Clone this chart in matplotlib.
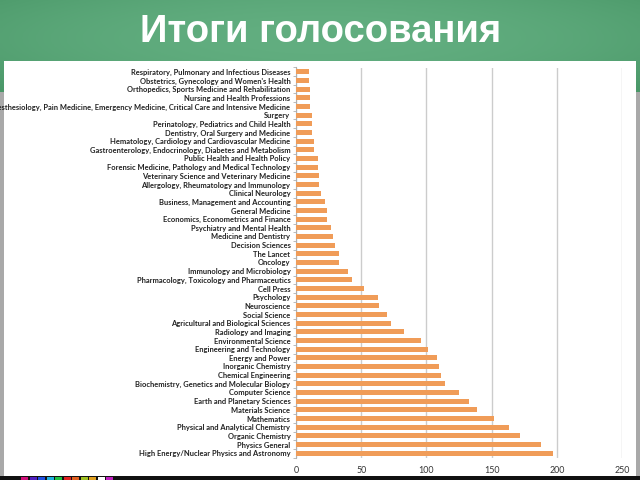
import matplotlib
matplotlib.use("Agg")
import matplotlib.pyplot as plt
import numpy as np
from matplotlib.patches import Rectangle

title = "Итоги голосования"

categories = [
    "Respiratory, Pulmonary and Infectious Diseases",
    "Obstetrics, Gynecology and Women's Health",
    "Orthopedics, Sports Medicine and Rehabilitation",
    "Nursing and Health Professions",
    "Anesthesiology, Pain Medicine, Emergency Medicine, Critical Care and Intensive Medicine",
    "Surgery",
    "Perinatology, Pediatrics and Child Health",
    "Dentistry, Oral Surgery and Medicine",
    "Hematology, Cardiology and Cardiovascular Medicine",
    "Gastroenterology, Endocrinology, Diabetes and Metabolism",
    "Public Health and Health Policy",
    "Forensic Medicine, Pathology and Medical Technology",
    "Veterinary Science and Veterinary Medicine",
    "Allergology, Rheumatology and Immunology",
    "Clinical Neurology",
    "Business, Management and Accounting",
    "General Medicine",
    "Economics, Econometrics and Finance",
    "Psychiatry and Mental Health",
    "Medicine and Dentistry",
    "Decision Sciences",
    "The Lancet",
    "Oncology",
    "Immunology and Microbiology",
    "Pharmacology, Toxicology and Pharmaceutics",
    "Cell Press",
    "Psychology",
    "Neuroscience",
    "Social Science",
    "Agricultural and Biological Sciences",
    "Radiology and Imaging",
    "Environmental Science",
    "Engineering and Technology",
    "Energy and Power",
    "Inorganic Chemistry",
    "Chemical Engineering",
    "Biochemistry, Genetics and Molecular Biology",
    "Computer Science",
    "Earth and Planetary Sciences",
    "Materials Science",
    "Mathematics",
    "Physical and Analytical Chemistry",
    "Organic Chemistry",
    "Physics General",
    "High Energy/Nuclear Physics and Astronomy",
]

votes = [
    10, 10, 11, 11, 11, 12, 12, 12, 14, 14,
    17, 17, 18, 18, 19.5, 22, 24, 24, 27, 28,
    30, 33, 33, 40, 43, 52, 63, 64, 70, 73,
    83, 96, 101, 108, 110, 111, 114, 125, 133, 139,
    152, 163, 172, 188, 197,
]

x_ticks = [0, 50, 100, 150, 200, 250]

W, H = 640, 480
fig = plt.figure(figsize=(6.4, 4.8), dpi=100)

# background (green header with soft gradient)
bg = fig.add_axes([0, 0, 1, 1])
bg.set_axis_off()
xx = np.linspace(-1, 1, 200)
yy = np.linspace(-1, 1, 100)
X, Y = np.meshgrid(xx, yy)
grad = 1 - 0.35 * (X**2) - 0.25 * (Y + 0.2)**2
c_dark = np.array([0x3e, 0x8c, 0x5c]) / 255
c_light = np.array([0x62, 0xae, 0x80]) / 255
img = c_dark[None, None, :] + (c_light - c_dark)[None, None, :] * np.clip(grad, 0, 1)[:, :, None]
bg.imshow(img, extent=[0, W, H - 95, H], aspect="auto", origin="upper")
bg.set_xlim(0, W)
bg.set_ylim(0, H)
# grey side strips
bg.add_patch(Rectangle((0, 0), 4, H - 92, color="#a9a9a9", lw=0))
bg.add_patch(Rectangle((636, 0), 4, H - 92, color="#a9a9a9", lw=0))
# white panel
bg.add_patch(Rectangle((4, 4), 632, H - 61 - 4, color="white", lw=0))
# bottom dark strip with colour squares
bg.add_patch(Rectangle((0, 0), W, 4, color="#111111", lw=0))
sq_colors = ["#d0107a", "#5020c0", "#2050e0", "#20b0e0", "#20c040", "#e02020",
             "#e06020", "#a0c020", "#e0a020", "#ffffff", "#c020c0"]
for i, c in enumerate(sq_colors):
    bg.add_patch(Rectangle((21 + i * 8.5, 0), 7, 3, color=c, lw=0))

bg.text(W / 2 + 1, H - 32, title, ha="center", va="center", color="white",
        fontsize=27.5, fontweight="bold", family=["Liberation Sans", "DejaVu Sans"])

# chart axes
ax = fig.add_axes([296 / W, 1 - 457.5 / H, (622 - 296) / W, (457.5 - 67.5) / H])
ax.set_facecolor("none")
n = len(categories)
ypos = np.arange(n)
ax.barh(ypos, votes, height=0.58, color="#f09c58", zorder=3)
ax.set_ylim(n - 0.5, -0.5)
ax.set_xlim(0, 250)
ax.set_xticks(x_ticks)
ax.set_xticklabels([str(t) for t in x_ticks])
ax.set_yticks(ypos)
ax.set_yticklabels(categories)
ax.set_yticks(np.arange(n + 1) - 0.5, minor=True)
ax.tick_params(axis="y", which="major", length=0, pad=4, labelsize=5.4, labelcolor="#222222")
ax.tick_params(axis="y", which="minor", length=2.5, color="#b0b0b0", width=0.6)
ax.tick_params(axis="x", length=0, pad=6, labelsize=6.4, labelcolor="#333333")
for lab in ax.get_yticklabels():
    lab.set_family(["Lato", "DejaVu Sans"])
    lab.set_fontweight("bold")
for lab in ax.get_xticklabels():
    lab.set_family(["Lato", "DejaVu Sans"])
ax.grid(axis="x", color="#cccccc", lw=1.0, zorder=0)
ax.set_axisbelow(True)
for s in ["top", "right", "bottom"]:
    ax.spines[s].set_visible(False)
ax.spines["left"].set_color("#b0b0b0")
ax.spines["left"].set_linewidth(0.8)

fig.savefig("out.png", dpi=100)
